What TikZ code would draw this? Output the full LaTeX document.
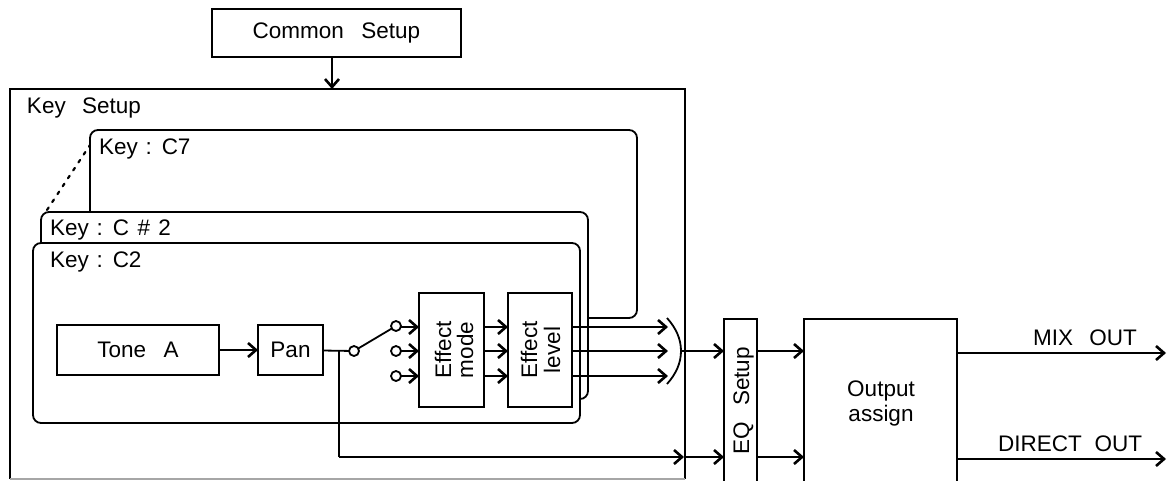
\documentclass[tikz,border=0pt]{standalone}
\usepackage{fontspec}
\setmainfont{Liberation Sans}
\usetikzlibrary{arrows.meta}
\tikzset{
  every node/.style={font=\fontsize{22.5}{25}\selectfont, inner sep=0pt, outer sep=0pt},
  blk/.style={draw, line width=1.7pt, fill=white, anchor=north west},
  rbox/.style={draw, line width=1.8pt, rounded corners=8pt, fill=white, anchor=north west},
  lbl/.style={anchor=base west},
  wire/.style={line width=1.8pt},
  arr/.style={wire, -{Straight Barb[length=8pt,width=14pt,line width=2.6pt]}},
  contact/.style={circle, draw, line width=1.8pt, minimum size=10pt, fill=white},
  vlbl/.style={rotate=90, anchor=base},
}
\begin{document}
\begin{tikzpicture}[x=1pt,y=-1pt]
\useasboundingbox (0,0) rectangle (1170,480);
% outer
\node[anchor=north west, minimum width=675pt, minimum height=390pt] (keysetup) at (10,89) {};
\draw[line width=1.5pt] (keysetup.south west) -- (keysetup.north west) -- (keysetup.north east) -- (keysetup.south east);
\draw[line width=1.2pt, gray!70] (keysetup.south west) -- (keysetup.south east);
\node[lbl] (keysetuplbl) at (27,113) {Key\hspace{0.45em} Setup};
\node[blk, minimum width=249pt, minimum height=48pt] (common) at (212,9) {Common\hspace{0.5em} Setup};
\coordinate (cin) at (332,89);
\draw[arr] (common.south -| cin) -- (cin);
% stacked key boxes
\node[rbox, minimum width=547pt, minimum height=188pt] (c7) at (90,130) {};
\node[lbl] (c7lbl) at (99,154) {Key\hspace{0.07em} : \hspace{0.07em}C7};
\node[rbox, minimum width=547pt, minimum height=187pt] (cs) at (41,212) {};
\node[lbl] (cslbl) at (50,235) {Key\hspace{0.07em} : \hspace{0.07em}C\hspace{0.1em} \#\hspace{0.1em} 2};
\node[rbox, minimum width=547pt, minimum height=180pt] (c2) at (33,243) {};
\node[lbl] (c2lbl) at (50,267) {Key\hspace{0.07em} : \hspace{0.07em}C2};
\coordinate (dota) at (47,210);
\coordinate (dotb) at (90,145);
\draw[line width=2.2pt, line cap=round, dash pattern=on 3pt off 6.5pt] (dota) -- (dotb);
% blocks
\node[blk, minimum width=162pt, minimum height=50pt] (tone) at (57,325) {Tone\hspace{0.5em} A};
\node[blk, minimum width=65pt, minimum height=50pt] (pan) at (258,325) {Pan};
\node[blk, minimum width=65pt, minimum height=114pt] (mode) at (419,293) {};
\node[vlbl] (modelbl) at (451,350) {Effect};
\node[vlbl] (modelbl2) at (473,350) {mode};
\node[blk, minimum width=64pt, minimum height=114pt] (level) at (508,293) {};
\node[vlbl] (levellbl) at (537,350) {Effect};
\node[vlbl] (levellbl2) at (560,350) {level};
\node[blk, minimum width=33pt, minimum height=170pt] (eq) at (724,319) {};
\node[vlbl] (eqlbl) at (749,401) {EQ\hspace{0.45em} Setup};
\node[blk, minimum width=153pt, minimum height=170pt] (output) at (804,319) {};
\node[anchor=base] (outlbl) at (881,396) {Output};
\node[anchor=base] (outlbl2) at (881,421) {assign};
% switch
\node[contact] (pivot) at (354,351) {};
\node[contact] (s1) at (396,326) {};
\node[contact] (s2) at (396,351) {};
\node[contact] (s3) at (396,376) {};
\draw[arr] (tone) -- (pan);
\draw[wire] (pan) -- (pivot);
\draw[wire] (pivot) -- (s1);
\foreach \s/\y in {s1/327,s2/351,s3/376}{
  \coordinate (m\y) at (419,\y);
  \coordinate (l\y) at (508,\y);
  \coordinate (ml\y) at (484,\y);
  \coordinate (lo\y) at (572,\y);
  \coordinate (e\y) at (668,\y);
  \draw[arr] (\s.east |- m\y) -- (m\y);
  \draw[arr] (ml\y) -- (l\y);
  \draw[arr] (lo\y) -- (e\y);
}
% combiner
\coordinate (ct) at (667,318);
\coordinate (cm) at (681,351);
\coordinate (cb) at (667,384);
\draw[wire] (ct) .. controls (676,328) and (681,339) .. (cm) .. controls (681,363) and (676,374) .. (cb);
\draw[arr] (cm) -- (eq.west |- cm);
% direct path
\coordinate (tap) at (339,351);
\coordinate (d1) at (339,457);
\coordinate (d2) at (684,457);
\draw[wire] (tap) -- (d1);
\draw[arr] (d1) -- (d2);
\draw[arr] (d2) -- (eq.west |- d2);
\draw[arr] (eq.east |- cm) -- (output.west |- cm);
\draw[arr] (eq.east |- d2) -- (output.west |- d2);
\coordinate (mixend) at (1166,353);
\coordinate (dirend) at (1166,459);
\draw[arr] (output.east |- mixend) -- (mixend);
\draw[arr] (output.east |- dirend) -- (dirend);
\node[lbl] (mixlbl) at (1033,345) {MIX\hspace{0.45em} OUT};
\node[lbl] (dirlbl) at (998,451) {DIRECT\hspace{0.3em} OUT};
\end{tikzpicture}
\end{document}
